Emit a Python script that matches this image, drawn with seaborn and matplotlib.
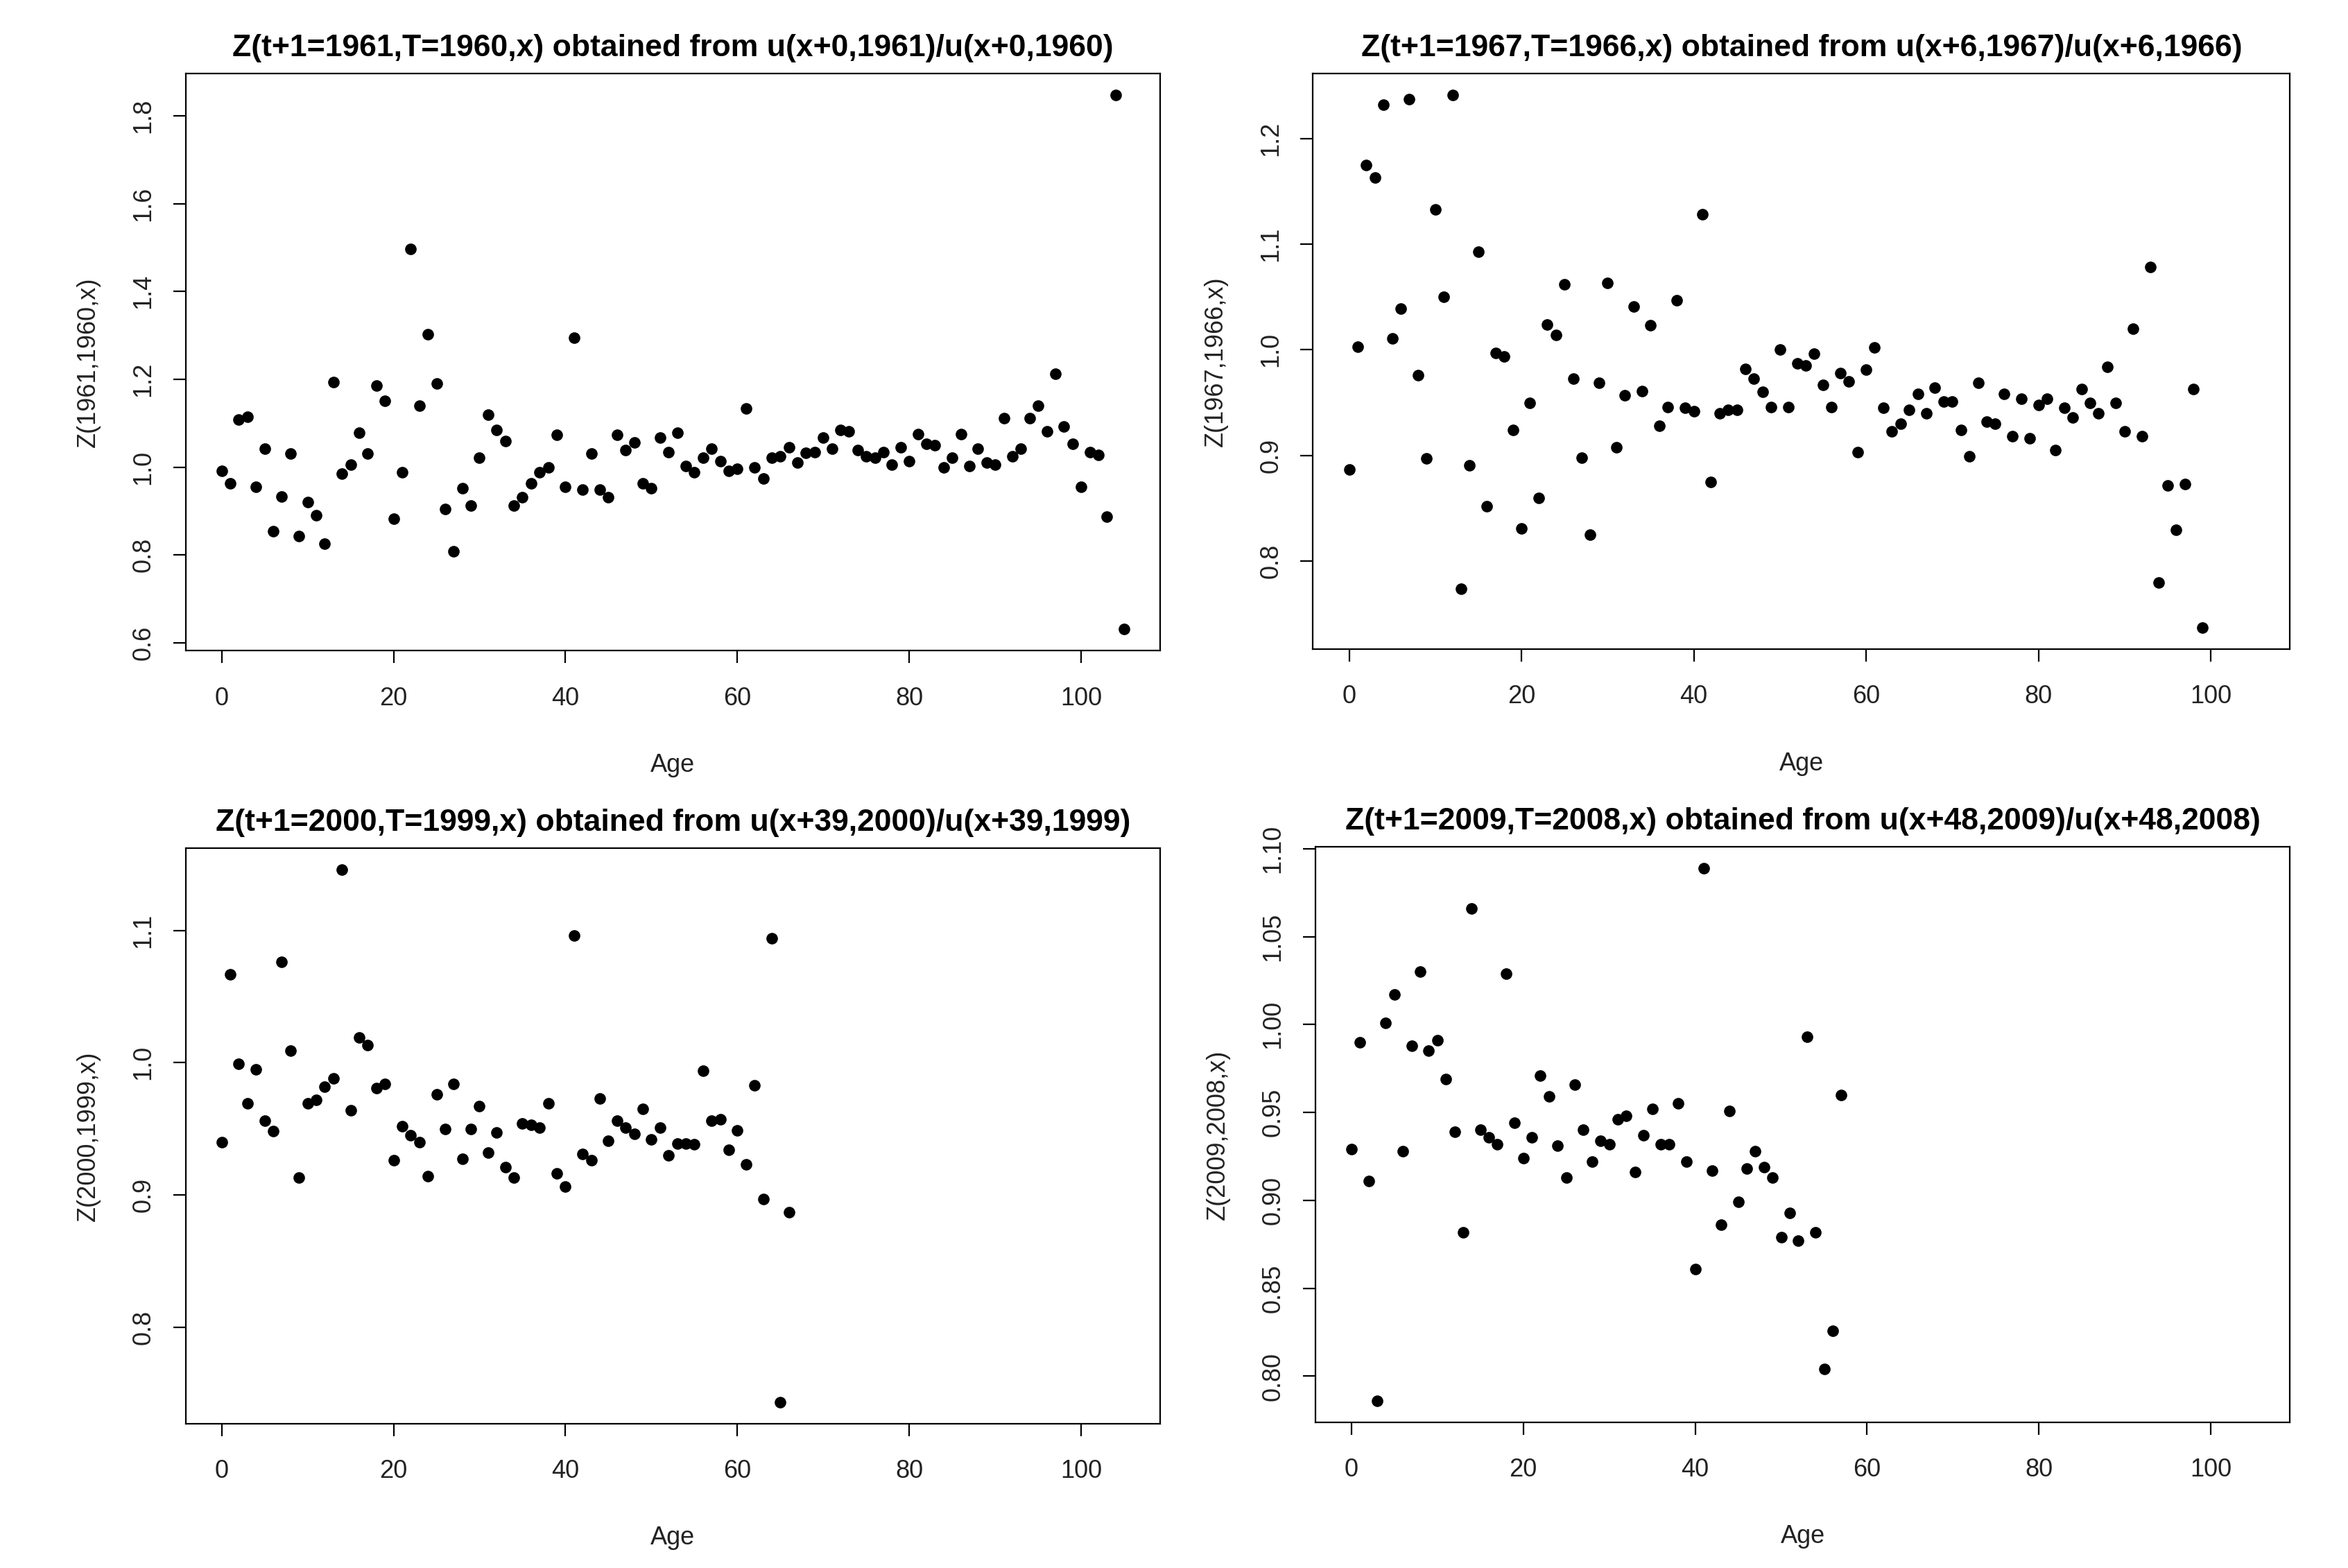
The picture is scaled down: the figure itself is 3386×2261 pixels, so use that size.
import numpy as np
import pandas as pd
import seaborn as sns
import matplotlib.pyplot as plt

# Z values, one list per panel (age starts at 0)
z_1961 = [0.992, 0.963, 1.109, 1.115, 0.956, 1.042, 0.855, 0.934, 1.031, 0.844,
          0.920, 0.890, 0.826, 1.194, 0.985, 1.006, 1.078, 1.031, 1.186, 1.151,
          0.883, 0.988, 1.497, 1.140, 1.302, 1.190, 0.905, 0.808, 0.952, 0.913,
          1.021, 1.119, 1.085, 1.060, 0.913, 0.931, 0.963, 0.988, 0.999, 1.074,
          0.956, 1.295, 0.949, 1.031, 0.949, 0.931, 1.074, 1.039, 1.057, 0.963,
          0.952, 1.067, 1.035, 1.078, 1.003, 0.988, 1.021, 1.042, 1.014, 0.992,
          0.996, 1.133, 0.999, 0.974, 1.021, 1.025, 1.046, 1.010, 1.032, 1.035,
          1.067, 1.042, 1.085, 1.082, 1.039, 1.025, 1.021, 1.035, 1.006, 1.046,
          1.014, 1.075, 1.053, 1.050, 0.999, 1.021, 1.075, 1.003, 1.042, 1.010,
          1.006, 1.111, 1.025, 1.042, 1.111, 1.140, 1.082, 1.212, 1.092, 1.053,
          0.956, 1.035, 1.028, 0.887, 1.847, 0.631]

z_1967 = [0.887, 1.003, 1.175, 1.163, 1.232, 1.011, 1.039, 1.237, 0.976, 0.897,
          1.133, 1.050, 1.241, 0.774, 0.891, 1.093, 0.852, 0.997, 0.994, 0.924,
          0.831, 0.950, 0.860, 1.024, 1.014, 1.062, 0.973, 0.898, 0.825, 0.969,
          1.063, 0.908, 0.957, 1.041, 0.961, 1.023, 0.928, 0.946, 1.047, 0.945,
          0.942, 1.128, 0.875, 0.940, 0.943, 0.943, 0.982, 0.973, 0.960, 0.946,
          1.000, 0.946, 0.987, 0.985, 0.996, 0.967, 0.946, 0.978, 0.970, 0.903,
          0.981, 1.002, 0.945, 0.923, 0.930, 0.943, 0.958, 0.940, 0.964, 0.951,
          0.951, 0.924, 0.899, 0.969, 0.932, 0.930, 0.958, 0.918, 0.954, 0.916,
          0.948, 0.954, 0.905, 0.945, 0.936, 0.963, 0.950, 0.940, 0.984, 0.950,
          0.923, 1.020, 0.918, 1.078, 0.780, 0.872, 0.830, 0.873, 0.963, 0.737]

z_2000 = [0.940, 1.067, 0.999, 0.969, 0.995, 0.956, 0.948, 1.076, 1.009, 0.913,
          0.969, 0.972, 0.982, 0.988, 1.146, 0.964, 1.019, 1.013, 0.981, 0.984,
          0.926, 0.952, 0.945, 0.940, 0.914, 0.976, 0.950, 0.984, 0.927, 0.950,
          0.967, 0.932, 0.947, 0.921, 0.913, 0.954, 0.953, 0.951, 0.969, 0.916,
          0.906, 1.096, 0.931, 0.926, 0.973, 0.941, 0.956, 0.951, 0.946, 0.965,
          0.942, 0.951, 0.930, 0.939, 0.939, 0.938, 0.994, 0.956, 0.957, 0.934,
          0.949, 0.923, 0.983, 0.897, 1.094, 0.743, 0.887]

z_2009 = [0.929, 0.990, 0.911, 0.786, 1.001, 1.017, 0.928, 0.988, 1.030, 0.985,
          0.991, 0.969, 0.939, 0.882, 1.066, 0.940, 0.936, 0.932, 1.029, 0.944,
          0.924, 0.936, 0.971, 0.959, 0.931, 0.913, 0.966, 0.940, 0.922, 0.934,
          0.932, 0.946, 0.948, 0.916, 0.937, 0.952, 0.932, 0.932, 0.955, 0.922,
          0.861, 1.089, 0.917, 0.886, 0.951, 0.899, 0.918, 0.928, 0.919, 0.913,
          0.879, 0.893, 0.877, 0.993, 0.882, 0.804, 0.826, 0.960]

titles = ["Z(t+1=1961,T=1960,x) obtained from u(x+0,1961)/u(x+0,1960)",
          "Z(t+1=1967,T=1966,x) obtained from u(x+6,1967)/u(x+6,1966)",
          "Z(t+1=2000,T=1999,x) obtained from u(x+39,2000)/u(x+39,1999)",
          "Z(t+1=2009,T=2008,x) obtained from u(x+48,2009)/u(x+48,2008)"]
ylabels = ["Z(1961,1960,x)", "Z(1967,1966,x)", "Z(2000,1999,x)", "Z(2009,2008,x)"]
yticks = [[0.6, 0.8, 1.0, 1.2, 1.4, 1.6, 1.8],
          [0.8, 0.9, 1.0, 1.1, 1.2],
          [0.8, 0.9, 1.0, 1.1],
          [0.80, 0.85, 0.90, 0.95, 1.00, 1.05, 1.10]]
ytick_fmt = ["{:.1f}", "{:.1f}", "{:.1f}", "{:.2f}"]
xticks = [0, 20, 40, 60, 80, 100]
age_range = (0, 105)

series = [z_1961, z_1967, z_2000, z_2009]

sns.set_theme(style="white")
plt.rcParams['font.family'] = ['Liberation Sans', 'DejaVu Sans']

fig = plt.figure(figsize=(16.935, 11.305), dpi=200)
boxes = [[0.079, 0.585, 0.415, 0.368],
         [0.559, 0.586, 0.416, 0.367],
         [0.079, 0.092, 0.415, 0.367],
         [0.560, 0.093, 0.415, 0.367]]


def r_range(lo, hi):
    # R's default 4% axis padding
    pad = (hi - lo) * 0.04
    return lo - pad, hi + pad


for i, z in enumerate(series):
    ax = fig.add_axes(boxes[i])
    df = pd.DataFrame({"Age": list(range(len(z))), "Z": z})
    sns.scatterplot(data=df, x="Age", y="Z", ax=ax, color="black",
                    s=36, linewidth=0)

    ax.set_xlim(*r_range(*age_range))
    ax.set_ylim(*r_range(min(z), max(z)))
    ax.set_xticks(xticks)
    ax.set_xticklabels([str(t) for t in xticks])
    ax.set_yticks(yticks[i])
    ax.set_yticklabels([ytick_fmt[i].format(t) for t in yticks[i]])
    for lab in ax.get_yticklabels():
        lab.set_rotation(90)
        lab.set_va("center")

    ax.tick_params(axis="both", direction="out", length=6.5, width=0.8,
                   color="black", labelsize=13, labelcolor="#222222",
                   bottom=True, left=True)
    ax.tick_params(axis="x", pad=12)
    ax.tick_params(axis="y", pad=9)
    for sp in ax.spines.values():
        sp.set_visible(True)
        sp.set_color("black")
        sp.set_linewidth(0.8)

    ax.set_xlabel("Age", fontsize=13, labelpad=22, color="#222222")
    ax.set_ylabel(ylabels[i], fontsize=13, labelpad=16, color="#222222")
    ax.set_title(titles[i], fontsize=16, fontweight="bold", pad=9, color="black")
    ax.grid(False)

fig.savefig("out.png", dpi=200)
